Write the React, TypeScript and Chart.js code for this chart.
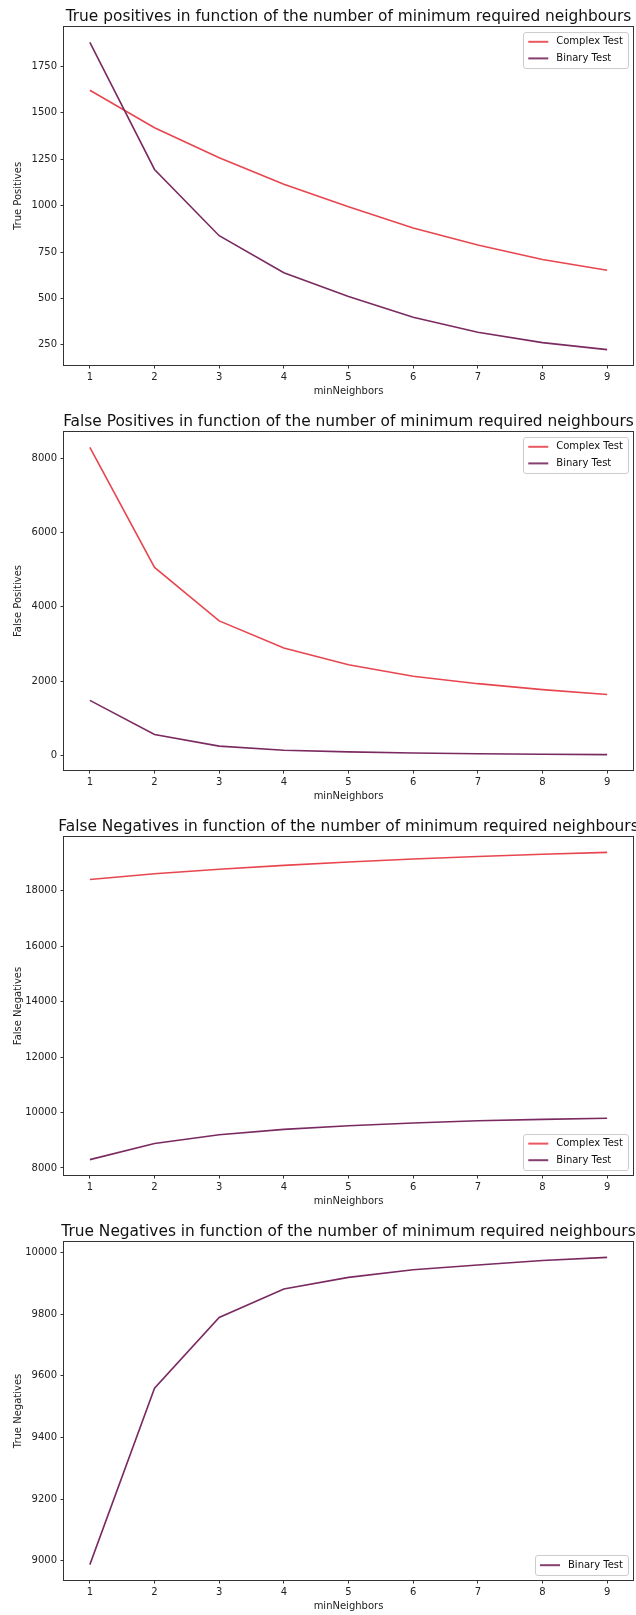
import React, { useEffect, useRef } from "react";
import { Chart, registerables } from "chart.js";

Chart.register(...registerables);

// ---------- data ----------
const minNeighbors = [1, 2, 3, 4, 5, 6, 7, 8, 9];
const xTickValues = [1, 2, 3, 4, 5, 6, 7, 8, 9];

const tpComplex = [1622, 1420, 1258, 1115, 994, 880, 788, 710, 652];
const tpBinary = [1880, 1195, 838, 638, 510, 398, 318, 262, 224];
const tpTicks = [250, 500, 750, 1000, 1250, 1500, 1750];

const fpComplex = [8290, 5060, 3620, 2890, 2440, 2130, 1930, 1770, 1640];
const fpBinary = [1480, 560, 250, 140, 95, 65, 45, 30, 20];
const fpTicks = [0, 2000, 4000, 6000, 8000];

const fnComplex = [18400, 18610, 18770, 18910, 19030, 19140, 19230, 19310, 19380];
const fnBinary = [8300, 8880, 9200, 9390, 9520, 9620, 9700, 9750, 9790];
const fnTicks = [8000, 10000, 12000, 14000, 16000, 18000];

const tnBinary = [8987, 9560, 9790, 9882, 9920, 9945, 9960, 9975, 9985];
const tnTicks = [9000, 9200, 9400, 9600, 9800, 10000];

const COMPLEX_COLOR = "#e8464f";
const BINARY_COLOR = "#7a2a60";
const FONT = "DejaVu Sans";

// ---------- layout ----------
const W = 636;
const CH = 405;
const PLOT_TOP = 27;
const PLOT_BOTTOM = 365;
const PLOT_LEFT = 64;
const PLOT_RIGHT = 633;

type Series = { label: string; color: string; values: number[]; order: number };
type Panel = {
  title: string;
  ylabel: string;
  series: Series[];
  ticks: number[];
  legendPos: "upper right" | "lower right";
};

const panels: Panel[] = [
  {
    title: "True positives in function of the number of minimum required neighbours",
    ylabel: "True Positives",
    series: [
      { label: "Complex Test", color: COMPLEX_COLOR, values: tpComplex, order: 1 },
      { label: "Binary Test", color: BINARY_COLOR, values: tpBinary, order: 0 },
    ],
    ticks: tpTicks,
    legendPos: "upper right",
  },
  {
    title: "False Positives in function of the number of minimum required neighbours",
    ylabel: "False Positives",
    series: [
      { label: "Complex Test", color: COMPLEX_COLOR, values: fpComplex, order: 1 },
      { label: "Binary Test", color: BINARY_COLOR, values: fpBinary, order: 0 },
    ],
    ticks: fpTicks,
    legendPos: "upper right",
  },
  {
    title: "False Negatives in function of the number of minimum required neighbours",
    ylabel: "False Negatives",
    series: [
      { label: "Complex Test", color: COMPLEX_COLOR, values: fnComplex, order: 1 },
      { label: "Binary Test", color: BINARY_COLOR, values: fnBinary, order: 0 },
    ],
    ticks: fnTicks,
    legendPos: "lower right",
  },
  {
    title: "True Negatives in function of the number of minimum required neighbours",
    ylabel: "True Negatives",
    series: [{ label: "Binary Test", color: BINARY_COLOR, values: tnBinary, order: 0 }],
    ticks: tnTicks,
    legendPos: "lower right",
  },
];

const decorPlugin = {
  id: "decor",
  afterDraw(chart: any, _args: any, opts: any) {
    const { ctx, chartArea: a } = chart;
    const panel: Panel = opts.panel;
    ctx.save();
    // frame (spines)
    ctx.strokeStyle = "#333";
    ctx.lineWidth = 1;
    ctx.strokeRect(Math.round(a.left) - 0.5, Math.round(a.top) - 0.5, Math.round(a.right - a.left) + 1, Math.round(a.bottom - a.top) + 1);

    // title
    ctx.fillStyle = "#111";
    ctx.font = `15.4px "${FONT}"`;
    ctx.textAlign = "center";
    ctx.textBaseline = "alphabetic";
    ctx.fillText(panel.title, (a.left + a.right) / 2, a.top - 6);

    // axis labels
    ctx.fillStyle = "#222";
    ctx.font = `10px "${FONT}"`;
    ctx.textBaseline = "middle";
    ctx.fillText("minNeighbors", (a.left + a.right) / 2, 391);
    ctx.save();
    ctx.translate(18.5, (a.top + a.bottom) / 2);
    ctx.rotate(-Math.PI / 2);
    ctx.fillText(panel.ylabel, 0, 0);
    ctx.restore();

    // legend (inside axes)
    const fs = 10;
    const items = panel.series;
    let maxW = 0;
    items.forEach((it) => (maxW = Math.max(maxW, ctx.measureText(it.label).width)));
    const rowH = 11.6;
    const pad = 0.4 * fs;
    const handle = 2 * fs;
    const hpad = 0.8 * fs;
    const spacing = 0.5 * fs;
    const bw = pad + handle + hpad + maxW + pad + 2;
    const bh = pad * 2 + rowH * items.length + spacing * (items.length - 1);
    const right = a.right - 5;
    const left = right - bw;
    const top = panel.legendPos === "upper right" ? a.top + 5 : a.bottom - 5 - bh;
    ctx.fillStyle = "rgba(255,255,255,0.8)";
    ctx.strokeStyle = "#cccccc";
    ctx.lineWidth = 1;
    ctx.beginPath();
    (ctx as any).roundRect(Math.round(left) + 0.5, Math.round(top) + 0.5, Math.round(bw), Math.round(bh), 2.5);
    ctx.fill();
    ctx.stroke();
    items.forEach((it, i) => {
      const cy = top + pad + i * (rowH + spacing) + rowH / 2;
      ctx.strokeStyle = it.color;
      ctx.globalAlpha = 0.9;
      ctx.lineWidth = 2;
      ctx.beginPath();
      ctx.moveTo(left + pad + 1, cy);
      ctx.lineTo(left + pad + 1 + handle, cy);
      ctx.stroke();
      ctx.globalAlpha = 1;
      ctx.fillStyle = "#111";
      ctx.textAlign = "left";
      ctx.textBaseline = "middle";
      ctx.fillText(it.label, left + pad + 1 + handle + hpad, cy);
    });
    ctx.restore();
  },
};

function PanelChart({ panel }: { panel: Panel }) {
  const ref = useRef<HTMLCanvasElement | null>(null);
  useEffect(() => {
    if (!ref.current) return;
    let lo = Infinity;
    let hi = -Infinity;
    panel.series.forEach((s) => s.values.forEach((v) => { lo = Math.min(lo, v); hi = Math.max(hi, v); }));
    const m = (hi - lo) * 0.05;
    const xlo = minNeighbors[0];
    const xhi = minNeighbors[minNeighbors.length - 1];
    const xm = (xhi - xlo) * 0.05;
    const tickFont = { family: FONT, size: 10 };
    const chart = new Chart(ref.current, {
      type: "line",
      data: {
        datasets: panel.series.map((s) => ({
          label: s.label,
          data: minNeighbors.map((x, i) => ({ x, y: s.values[i] })),
          borderColor: s.color,
          backgroundColor: s.color,
          borderWidth: 1.6,
          pointRadius: 0,
          tension: 0,
          fill: false,
          order: s.order,
        })),
      },
      options: {
        animation: false,
        responsive: false,
        maintainAspectRatio: false,
        layout: { padding: { top: PLOT_TOP, right: W - PLOT_RIGHT, left: 0, bottom: 0 } },
        plugins: {
          legend: { display: false },
          title: { display: false },
          tooltip: { enabled: false },
          decor: { panel },
        } as any,
        scales: {
          x: {
            type: "linear",
            min: xlo - xm,
            max: xhi + xm,
            afterBuildTicks: (s: any) => { s.ticks = xTickValues.map((v) => ({ value: v })); },
            afterFit: (s: any) => { s.height = CH - PLOT_BOTTOM; },
            grid: { display: true, drawOnChartArea: false, drawTicks: true, tickLength: 3.5, color: "#333", lineWidth: 1 },
            border: { display: false },
            ticks: { padding: 3, font: tickFont, color: "#222", maxRotation: 0, autoSkip: false, callback: (v: any) => String(v) },
          },
          y: {
            type: "linear",
            min: lo - m,
            max: hi + m,
            afterBuildTicks: (s: any) => { s.ticks = panel.ticks.map((v) => ({ value: v })); },
            afterFit: (s: any) => { s.width = PLOT_LEFT; },
            grid: { display: true, drawOnChartArea: false, drawTicks: true, tickLength: 3.5, color: "#333", lineWidth: 1 },
            border: { display: false },
            ticks: { padding: 3.5, font: tickFont, color: "#222", autoSkip: false, callback: (v: any) => String(v) },
          },
        },
      },
      plugins: [decorPlugin],
    } as any);
    return () => chart.destroy();
  }, [panel]);
  return <canvas ref={ref} width={W} height={CH} style={{ display: "block", width: W, height: CH }} />;
}

export default function App() {
  return (
    <div style={{ position: "absolute", left: 0, top: 0, width: W, height: 1615, overflow: "hidden", background: "#fff" }}>
      {panels.map((p, i) => (
        <div key={i} style={{ position: "absolute", left: 0, top: i * CH, width: W, height: CH }}>
          <PanelChart panel={p} />
        </div>
      ))}
    </div>
  );
}
